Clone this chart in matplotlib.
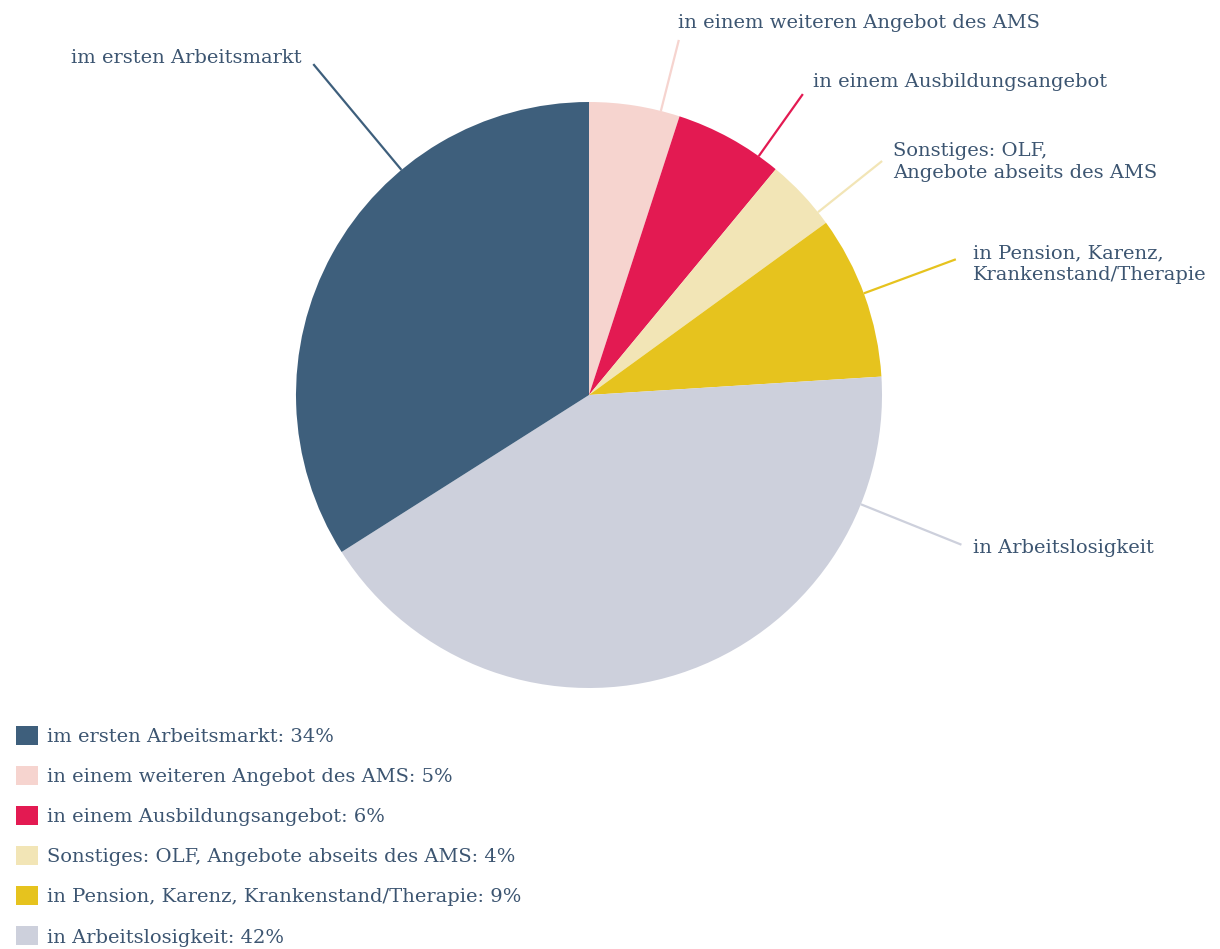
import matplotlib
matplotlib.use('Agg')
import matplotlib.pyplot as plt
import numpy as np

# data (clockwise from the top)
labels = ['in einem weiteren Angebot des AMS', 'in einem Ausbildungsangebot',
          'Sonstiges: OLF, Angebote abseits des AMS', 'in Pension, Karenz, Krankenstand/Therapie',
          'in Arbeitslosigkeit', 'im ersten Arbeitsmarkt']
values = [5, 6, 4, 9, 42, 34]
colors = ['#f6d4cf', '#e31a52', '#f2e5b6', '#e6c31e', '#cdd0dc', '#3e5f7c']

# callout texts (with line breaks)
callouts = ['in einem weiteren Angebot des AMS', 'in einem Ausbildungsangebot',
            'Sonstiges: OLF,\nAngebote abseits des AMS', 'in Pension, Karenz,\nKrankenstand/Therapie',
            'in Arbeitslosigkeit', 'im ersten Arbeitsmarkt']
legend_order = [5, 0, 1, 2, 3, 4]

txtc = '#3c5571'
plt.rcParams['font.family'] = ['DejaVu Serif']
fs = 14

W, H = 1220, 949
cx, cy, R = 589, 395, 293
fig = plt.figure(figsize=(W/100, H/100), dpi=100)
ax = fig.add_axes([(cx-R)/W, (H-cy-R)/H, 2*R/W, 2*R/H])
wedges, _ = ax.pie(values, colors=colors, startangle=90, counterclock=False,
                   radius=1, wedgeprops=dict(linewidth=0))
ax.set_xlim(-1, 1)
ax.set_ylim(-1, 1)
ax.axis('off')

def px(x, y):
    return (x-cx)/R, (cy-y)/R

# leader lines: angle (deg) and outer radius, then text anchor in pixels
lead_ang = [75.8, 54.6, 38.6, 20.3, -21.9, 129.8]
lead_r = [1.25, 1.26, 1.28, 1.335, 1.37, 1.47]
txt_pos = [(678, 23), (813, 82), (893, 162), (973, 264), (973, 548), (302, 58)]
txt_ha = ['left', 'left', 'left', 'left', 'left', 'right']

for i in range(len(values)):
    a = np.deg2rad(lead_ang[i])
    ax.plot([np.cos(a), lead_r[i]*np.cos(a)], [np.sin(a), lead_r[i]*np.sin(a)],
            color=colors[i], lw=1.6, clip_on=False, solid_capstyle='butt')
    tx, ty = px(*txt_pos[i])
    ax.text(tx, ty, callouts[i], ha=txt_ha[i], va='center', fontsize=fs,
            color=txtc, clip_on=False, linespacing=1.25)

leg = fig.legend([wedges[i] for i in legend_order],
                 [labels[i] + ': ' + str(values[i]) + '%' for i in legend_order],
                 loc='upper left', bbox_to_anchor=(16/W, 1-726/H), frameon=False,
                 fontsize=fs, handlelength=1.12, handleheight=1.12, handletextpad=0.45,
                 labelspacing=1.03, borderaxespad=0, borderpad=0)
for t in leg.get_texts():
    t.set_color(txtc)

fig.savefig('out.png', dpi=100)
